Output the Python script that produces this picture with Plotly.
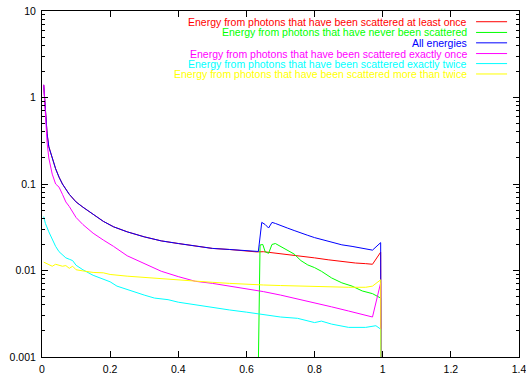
import plotly.graph_objects as go

# ---- data ----
x_red = [0.005, 0.01, 0.015, 0.02, 0.03, 0.04, 0.05, 0.06, 0.08, 0.1, 0.12, 0.15, 0.18, 0.21, 0.25, 0.3, 0.35,
         0.4, 0.45, 0.5, 0.55, 0.6, 0.63, 0.65, 0.68, 0.7, 0.73, 0.76, 0.8, 0.84, 0.88, 0.92, 0.95, 0.97,
         0.994, 0.996]
y_red = [1.4, 0.75, 0.38, 0.27, 0.20, 0.15, 0.12, 0.10, 0.076, 0.062, 0.054, 0.045, 0.037, 0.032, 0.028,
         0.0245, 0.022, 0.0205, 0.0192, 0.018, 0.0175, 0.0168, 0.0164, 0.0165, 0.016, 0.0157, 0.0152, 0.0145,
         0.014, 0.0133, 0.0127, 0.0122, 0.012, 0.0118, 0.0163, 1e-5]

x_green = [0.628, 0.64, 0.648, 0.655, 0.665, 0.675, 0.685, 0.7, 0.72, 0.74, 0.76, 0.78, 0.8, 0.82, 0.85,
           0.88, 0.91, 0.94, 0.97, 0.994, 0.996]
y_green = [1e-5, 0.0197, 0.020, 0.0165, 0.0158, 0.020, 0.0205, 0.019, 0.0172, 0.0155, 0.013, 0.0116, 0.0108,
           0.0098, 0.0082, 0.0072, 0.0066, 0.0058, 0.0054, 0.0048, 1e-5]

x_blue = [0.005, 0.01, 0.015, 0.02, 0.03, 0.04, 0.05, 0.06, 0.08, 0.1, 0.12, 0.15, 0.18, 0.21, 0.25, 0.3, 0.35,
          0.4, 0.45, 0.5, 0.55, 0.6, 0.635, 0.645, 0.655, 0.665, 0.675, 0.685, 0.7, 0.72, 0.74, 0.76, 0.78,
          0.8, 0.82, 0.85, 0.88, 0.91, 0.94, 0.97, 0.994, 0.996]
y_blue = [1.4, 0.75, 0.38, 0.27, 0.20, 0.15, 0.12, 0.10, 0.076, 0.062, 0.054, 0.045, 0.037, 0.032, 0.028,
          0.0245, 0.022, 0.0205, 0.0192, 0.018, 0.0175, 0.0168, 0.0166, 0.036, 0.034, 0.031, 0.036, 0.035,
          0.033, 0.031, 0.029, 0.027, 0.0255, 0.024, 0.0228, 0.021, 0.0198, 0.019, 0.018, 0.0172, 0.021, 1e-5]

x_mag = [0.005, 0.01, 0.015, 0.02, 0.03, 0.04, 0.05, 0.06, 0.07, 0.08, 0.1, 0.12, 0.15, 0.18, 0.21, 0.25, 0.3,
         0.35, 0.4, 0.45, 0.5, 0.55, 0.6, 0.65, 0.7, 0.75, 0.8, 0.85, 0.9, 0.94, 0.97, 0.994, 0.996]
y_mag = [1.4, 0.6, 0.3, 0.2, 0.13, 0.1, 0.092, 0.076, 0.062, 0.055, 0.041, 0.034, 0.027, 0.0225, 0.019,
         0.0148, 0.012, 0.0098, 0.0085, 0.0075, 0.0071, 0.0066, 0.0062, 0.0057, 0.0052, 0.0047, 0.0042,
         0.0038, 0.0034, 0.0031, 0.0029, 0.0072, 1e-5]

x_cyan = [0.005, 0.01, 0.02, 0.03, 0.04, 0.05, 0.06, 0.07, 0.08, 0.09, 0.1, 0.12, 0.15, 0.18, 0.2, 0.22, 0.25,
          0.28, 0.3, 0.33, 0.37, 0.4, 0.45, 0.5, 0.55, 0.6, 0.65, 0.7, 0.75, 0.78, 0.8, 0.82, 0.85, 0.9, 0.95,
          0.98, 0.994, 0.996]
y_cyan = [0.042, 0.035, 0.028, 0.023, 0.019, 0.0165, 0.015, 0.014, 0.0135, 0.013, 0.0115, 0.0102, 0.0088,
          0.0079, 0.0074, 0.0066, 0.0060, 0.0055, 0.0052, 0.0048, 0.0046, 0.0043, 0.0040, 0.0037, 0.0035,
          0.0033, 0.0031, 0.0029, 0.0028, 0.0026, 0.0025, 0.0026, 0.0024, 0.0022, 0.0022, 0.0023, 0.0021, 1e-5]

x_yel = [0.005, 0.02, 0.03, 0.04, 0.05, 0.06, 0.07, 0.08, 0.09, 0.1, 0.12, 0.15, 0.18, 0.2, 0.25, 0.3, 0.35,
         0.4, 0.45, 0.5, 0.55, 0.6, 0.65, 0.7, 0.75, 0.8, 0.85, 0.9, 0.95, 0.97, 0.994, 0.996]
y_yel = [0.0125, 0.0118, 0.0112, 0.0118, 0.0116, 0.0112, 0.0114, 0.0106, 0.0112, 0.0102, 0.0099, 0.0095,
         0.0094, 0.009, 0.0086, 0.0083, 0.0081, 0.0078, 0.0076, 0.0073, 0.0071, 0.0069, 0.0068, 0.0067,
         0.0066, 0.0065, 0.0064, 0.0064, 0.0064, 0.0066, 0.0078, 1e-5]

names = ["Energy from photons that have been scattered at least once",
         "Energy from photons that have never been scattered",
         "All energies",
         "Energy from photons that have been scattered exactly once",
         "Energy from photons that have been scattered exactly twice",
         "Energy from photons that have been scattered more than twice"]
colors = ["#ff0000", "#00ff00", "#0000ff", "#ff00ff", "#00ffff", "#ffff00"]
series = [(x_red, y_red), (x_green, y_green), (x_blue, y_blue), (x_mag, y_mag), (x_cyan, y_cyan), (x_yel, y_yel)]

x_ticks = [0, 0.2, 0.4, 0.6, 0.8, 1.0, 1.2, 1.4]
x_tick_text = ["0", "0.2", "0.4", "0.6", "0.8", "1", "1.2", "1.4"]
y_ticks = [0.001, 0.01, 0.1, 1, 10]
y_tick_text = ["0.001", "0.01", "0.1", "1", "10"]
y_minor = [m * 10 ** e for e in range(-3, 1) for m in range(2, 10)]

fig = go.Figure()
for (xs, ys), n, c in zip(series, names, colors):
    fig.add_trace(go.Scatter(x=xs, y=ys, mode="lines", name=n,
                             line=dict(color=c, width=1), showlegend=False))

font = "Liberation Sans, Arial, Helvetica, sans-serif"
# legend (text right-aligned, sample line to the right, gnuplot style)
leg_y = [0.969, 0.938, 0.908, 0.877, 0.848, 0.818]
for n, c, yy in zip(names, colors, leg_y):
    fig.add_annotation(x=0.895, y=yy, xref="paper", yref="paper", text=n, showarrow=False,
                       xanchor="right", yanchor="middle", font=dict(color=c, size=10.5, family=font))
    fig.add_shape(type="line", xref="paper", yref="paper", x0=0.91, x1=0.975, y0=yy, y1=yy,
                  line=dict(color=c, width=1))

fig.update_layout(
    width=526, height=376,
    margin=dict(l=42, r=7, t=11, b=19),
    paper_bgcolor="white", plot_bgcolor="white",
    font=dict(family=font, size=10.5, color="black"),
    showlegend=False,
)
fig.update_xaxes(range=[0, 1.4], tickmode="array", tickvals=x_ticks, ticktext=x_tick_text,
                 ticks="inside", ticklen=6, tickcolor="black", showline=True, linecolor="black",
                 linewidth=1, mirror="allticks", showgrid=False, zeroline=False, automargin=False,
                 ticklabelstandoff=2, ticklabeloverflow="allow")
fig.update_yaxes(type="log", range=[-3, 1], tickmode="array", tickvals=y_ticks, ticktext=y_tick_text,
                 ticks="inside", ticklen=6, tickcolor="black", showline=True, linecolor="black",
                 linewidth=1, mirror="allticks", showgrid=False, zeroline=False, automargin=False,
                 ticklabelstandoff=3, ticklabeloverflow="allow",
                 minor=dict(tickmode="array", tickvals=y_minor, ticks="inside", ticklen=3,
                            tickcolor="black", showgrid=False))

fig.write_html("out.html")
